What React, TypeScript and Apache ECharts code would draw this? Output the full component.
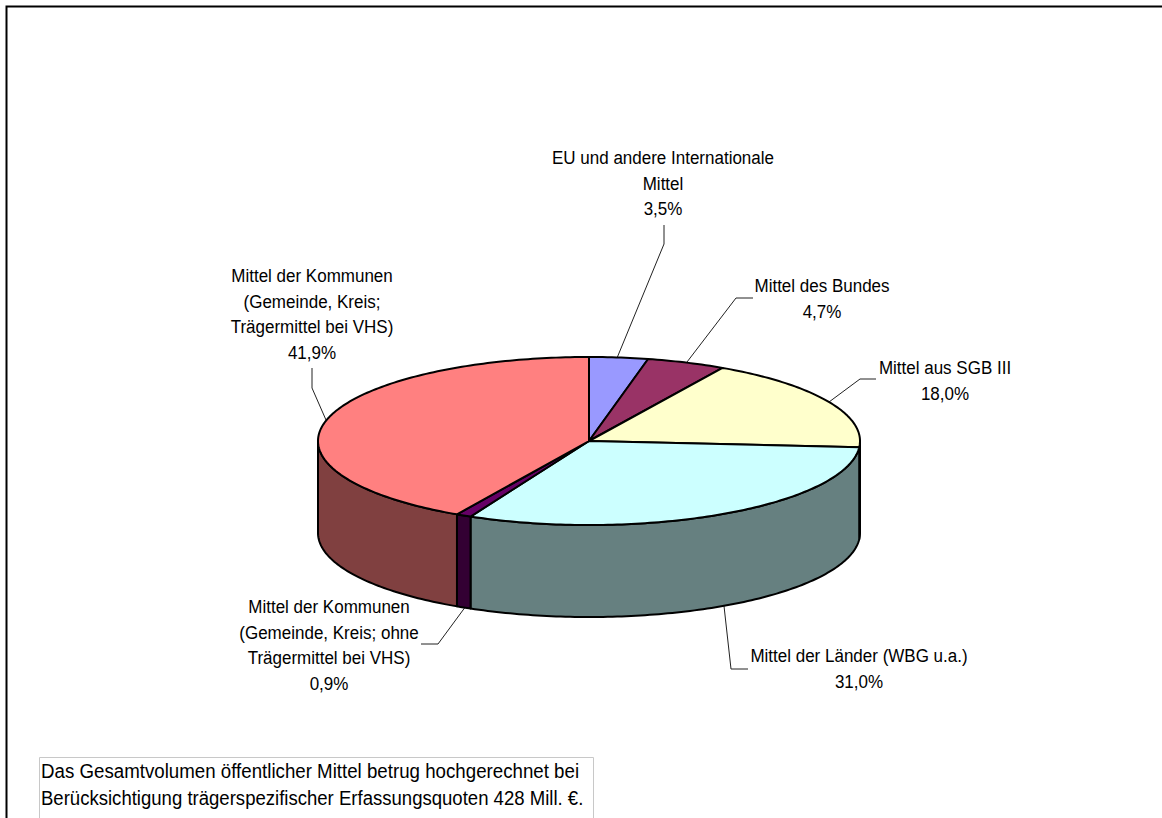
import React, { useEffect, useRef } from "react";
import * as echarts from "echarts";

const sliceNames = [
  "EU und andere Internationale\nMittel",
  "Mittel des Bundes",
  "Mittel aus SGB III",
  "Mittel der Länder (WBG u.a.)",
  "Mittel der Kommunen\n(Gemeinde, Kreis; ohne\nTrägermittel bei VHS)",
  "Mittel der Kommunen\n(Gemeinde, Kreis;\nTrägermittel bei VHS)",
];
const sliceValues = [3.5, 4.7, 18.0, 31.0, 0.9, 41.9];
const topColors = ["#9999FF", "#993366", "#FFFFCC", "#CCFFFF", "#660066", "#FF8080"];
const wallColors = ["#4C4C80", "#4C1A33", "#808066", "#668080", "#330033", "#804040"];
const noteLines = [
  "Das Gesamtvolumen öffentlicher Mittel betrug hochgerechnet bei",
  "Berücksichtigung trägerspezifischer Erfassungsquoten 428 Mill. €.",
];
const noteScales = [0.935, 0.928];

const CX = 589, CY = 441, RX = 271, RY = 84, DEPTH = 92;
const FONT = '19px "Liberation Sans", Arial, sans-serif';
const NOTE_FONT = '20px "Liberation Sans", Arial, sans-serif';
const LABEL_SCALE = 0.895;
const LINE_H = 25.5;

// Layout of labels and leader lines: [label centre x, first line y, leader polyline]
const labelLayout: [number, number, number[][]][] = [
  [663, 158, [[664, 225], [664, 244], [617, 358]]],
  [822, 286, [[753, 298], [736, 298], [687, 362]]],
  [945, 368, [[876, 379], [860, 379], [829, 402]]],
  [859, 656, [[748, 669], [731, 669], [724, 606]]],
  [329, 607, [[421, 644], [438, 644], [466, 606]]],
  [312, 276, [[312, 368], [312, 388], [326, 420]]],
];

const total = sliceValues.reduce((a, b) => a + b, 0);
const starts: number[] = [];
sliceValues.reduce((acc, v, i) => {
  starts[i] = acc;
  return acc + v;
}, 0);
const toAngle = (v: number) => (v / total) * Math.PI * 2;
const rimPoint = (a: number, dy = 0): number[] => [CX + RX * Math.sin(a), CY - RY * Math.cos(a) + dy];

function arcPoints(a0: number, a1: number, dy = 0): number[][] {
  const n = Math.max(2, Math.ceil(((a1 - a0) / Math.PI) * 180));
  const pts: number[][] = [];
  for (let i = 0; i <= n; i++) pts.push(rimPoint(a0 + ((a1 - a0) * i) / n, dy));
  return pts;
}

const edgeStyle = { stroke: "#000", lineWidth: 2, lineJoin: "round" as const };

function renderTop(_: any, api: any) {
  const i = api.value(1);
  const a0 = toAngle(starts[i]);
  const a1 = toAngle(starts[i] + api.value(0));
  return {
    type: "polygon",
    shape: { points: [[CX, CY], ...arcPoints(a0, a1)] },
    style: { fill: topColors[i], ...edgeStyle },
  };
}

function renderWall(_: any, api: any) {
  const i = api.value(1);
  const a0 = Math.max(toAngle(starts[i]), Math.PI / 2);
  const a1 = Math.min(toAngle(starts[i] + api.value(0)), (Math.PI * 3) / 2);
  if (a1 <= a0) return null;
  return {
    type: "polygon",
    shape: { points: [...arcPoints(a0, a1), ...arcPoints(a0, a1, DEPTH).reverse()] },
    style: { fill: wallColors[i], ...edgeStyle },
  };
}

export default function App() {
  const ref = useRef<HTMLDivElement>(null);
  useEffect(() => {
    document.body.style.margin = "0";
    const chart = echarts.init(ref.current!, undefined, { renderer: "svg" });
    const seriesData = sliceValues.map((v, i) => ({ name: sliceNames[i], value: [v, i] }));

    const texts: any[] = [];
    const leaders: any[] = [];
    labelLayout.forEach(([x, y, leader], i) => {
      const lines = [...sliceNames[i].split("\n"), sliceValues[i].toFixed(1).replace(".", ",") + "%"];
      lines.forEach((t, k) => {
        texts.push({
          type: "text",
          x,
          y: y + k * LINE_H,
          scaleX: LABEL_SCALE,
          style: { text: t, align: "center", verticalAlign: "middle", font: FONT, fill: "#000" },
        });
      });
      leaders.push({
        type: "polyline",
        shape: { points: leader },
        style: { stroke: "#222", lineWidth: 1, fill: "none" },
      });
    });

    chart.setOption({
      animation: false,
      backgroundColor: "#fff",
      graphic: [
        { type: "polyline", shape: { points: [[6.5, 818], [6.5, 6.5], [1162, 6.5]] }, style: { stroke: "#000", lineWidth: 2, fill: "none" } },
        { type: "rect", shape: { x: 39.5, y: 757.5, width: 554, height: 70 }, style: { fill: "#fff", stroke: "#c8c8c8", lineWidth: 1 } },
        ...noteLines.map((t, k) => ({
          type: "text",
          x: 41,
          y: 771 + k * 27,
          scaleX: noteScales[k],
          style: { text: t, align: "left", verticalAlign: "middle", font: NOTE_FONT, fill: "#000" },
        })),
        ...leaders,
        ...texts,
      ],
      series: [
        { type: "custom", coordinateSystem: "none", clip: false, z: 2, renderItem: renderWall, data: seriesData, silent: true },
        { type: "custom", coordinateSystem: "none", clip: false, z: 3, renderItem: renderTop, data: seriesData, silent: true },
      ],
    });
    return () => chart.dispose();
  }, []);
  return <div ref={ref} style={{ width: 1162, height: 818 }} />;
}
